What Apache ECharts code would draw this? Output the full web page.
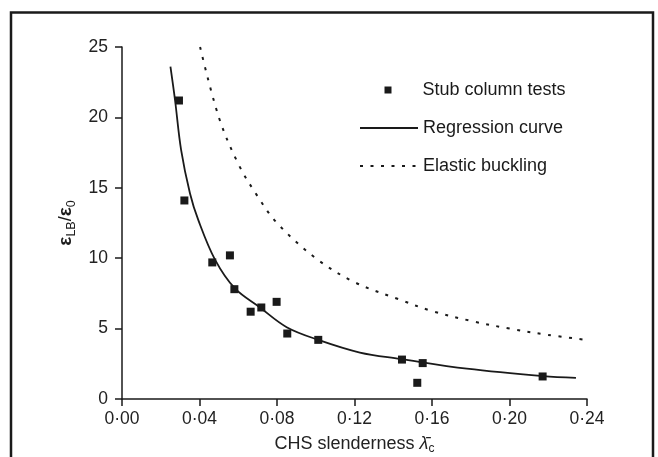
<!DOCTYPE html>
<html>
<head>
<meta charset="utf-8">
<script src="https://cdn.jsdelivr.net/npm/echarts@6/dist/echarts.min.js"></script>
<style>
  html, body { margin: 0; padding: 0; background: #fff; }
  #chart { width: 658px; height: 457px; }
</style>
</head>
<body>
<div id="chart"></div>
<script>
// 试验点 (stub column tests)
var testX = [0.0294, 0.0322, 0.0466, 0.0557, 0.0580, 0.0664, 0.0719, 0.0798, 0.0853, 0.1013, 0.1445, 0.1552, 0.1524, 0.2171]
var testY = [21.2, 14.1, 9.7, 10.2, 7.8, 6.2, 6.5, 6.9, 4.65, 4.2, 2.8, 2.55, 1.15, 1.6]

// 回归曲线
var regX = [0.0250, 0.0274, 0.0305, 0.0351, 0.0394, 0.0480, 0.0583, 0.0712, 0.0850, 0.1013, 0.1228, 0.1435, 0.1780, 0.2174, 0.2343]
var regY = [23.6, 21.2, 17.7, 14.6, 12.7, 9.9, 7.85, 6.5, 5.1, 4.2, 3.3, 2.85, 2.15, 1.62, 1.5]

// 弹性屈曲
var elaX = [0.0403, 0.050, 0.060, 0.0695, 0.080, 0.100, 0.120, 0.1435, 0.160, 0.180, 0.200, 0.220, 0.2385]
var elaY = [25.0, 20.0, 16.7, 14.5, 12.5, 10.0, 8.3, 7.05, 6.25, 5.55, 5.0, 4.55, 4.22]

var xTickLabels = ['0·00', '0·04', '0·08', '0·12', '0·16', '0·20', '0·24']
var yTickLabels = ['0', '5', '10', '15', '20', '25']

var seriesNames = ['Stub column tests', 'Regression curve', 'Elastic buckling']

function pairs(xs, ys) {
  return xs.map(function (x, i) { return [x, ys[i]] })
}

var ink = '#1a1a1a'
var font = 'Liberation Sans, Arial, sans-serif'

var axisCommon = {
  axisLine: { show: true, lineStyle: { color: ink, width: 1.5 } },
  axisTick: { show: true, inside: false, length: 7, lineStyle: { color: ink, width: 1.5 } },
  splitLine: { show: false },
  nameTextStyle: { color: ink, fontFamily: font }
}

var legendText = { color: ink, fontSize: 18, fontFamily: font, lineHeight: 20 }

var chart = echarts.init(document.getElementById('chart'), null, { renderer: 'canvas' })

var option = {
  backgroundColor: '#fff',
  animation: false,
  grid: { left: 122, right: 71, top: 47, bottom: 58, containLabel: false, outerBoundsMode: 'none' },
  graphic: [{
    type: 'rect',
    shape: { x: 11, y: 12.5, width: 642, height: 470 },
    style: { fill: 'none', stroke: ink, lineWidth: 2.5 },
    silent: true
  }],
  legend: [{
    data: [seriesNames[0]],
    left: 384.5, top: 80, padding: 0,
    icon: 'rect', itemWidth: 7, itemHeight: 7,
    itemStyle: { opacity: 1 },
    textStyle: Object.assign({ padding: [0, 0, 0, 26] }, legendText)
  }, {
    data: [seriesNames[1]],
    left: 359, top: 118, padding: 0,
    itemWidth: 58, itemHeight: 14,
    itemStyle: { opacity: 0 },
    textStyle: legendText
  }, {
    data: [seriesNames[2]],
    left: 359, top: 156, padding: 0,
    itemWidth: 58, itemHeight: 14,
    itemStyle: { opacity: 0 },
    textStyle: legendText
  }],
  xAxis: Object.assign({}, axisCommon, {
    type: 'value', min: 0, max: 0.24, interval: 0.04,
    axisLabel: {
      color: '#222', fontSize: 17.5, fontFamily: font, margin: 11,
      formatter: function (v) { return xTickLabels[Math.round(v / 0.04)] }
    },
    name: 'CHS slenderness {l|λ\u0304}{c|c}',
    nameLocation: 'middle', nameGap: 31,
    nameTextStyle: {
      color: '#222', fontSize: 18, fontFamily: font, lineHeight: 22,
      rich: {
        l: { fontSize: 18, fontStyle: 'italic', fontFamily: 'Liberation Sans, DejaVu Sans', lineHeight: 22, color: '#222' },
        c: { fontSize: 12, lineHeight: 12, verticalAlign: 'bottom', fontFamily: font, color: '#222' }
      }
    }
  }),
  yAxis: Object.assign({}, axisCommon, {
    type: 'value', min: 0, max: 25, interval: 5,
    axisLabel: {
      color: '#222', fontSize: 17.5, fontFamily: font, margin: 14,
      formatter: function (v) { return yTickLabels[Math.round(v / 5)] }
    },
    name: '{e|ε}{s|LB}{n|/}{e|ε}{s|0}',
    nameLocation: 'middle', nameRotate: 90, nameGap: 40,
    nameTextStyle: {
      color: ink, fontFamily: font, lineHeight: 24,
      rich: {
        e: { fontSize: 19, fontWeight: 'bold', lineHeight: 24, color: ink, fontFamily: font },
        n: { fontSize: 18, lineHeight: 24, color: ink, fontFamily: font },
        s: { fontSize: 12.5, lineHeight: 13, verticalAlign: 'bottom', color: ink, fontFamily: font }
      }
    }
  }),
  series: [{
    name: seriesNames[0],
    type: 'scatter',
    symbol: 'rect',
    symbolSize: 8,
    itemStyle: { color: ink, opacity: 1 },
    z: 5,
    data: pairs(testX, testY)
  }, {
    name: seriesNames[1],
    type: 'line',
    smooth: 0.35,
    symbol: 'none',
    lineStyle: { color: ink, width: 1.8 },
    itemStyle: { color: ink },
    data: pairs(regX, regY)
  }, {
    name: seriesNames[2],
    type: 'line',
    smooth: 0.35,
    symbol: 'none',
    lineStyle: { color: ink, width: 2, type: [3, 7.5] },
    itemStyle: { color: ink },
    data: pairs(elaX, elaY)
  }]
}

chart.setOption(option)
</script>
</body>
</html>
